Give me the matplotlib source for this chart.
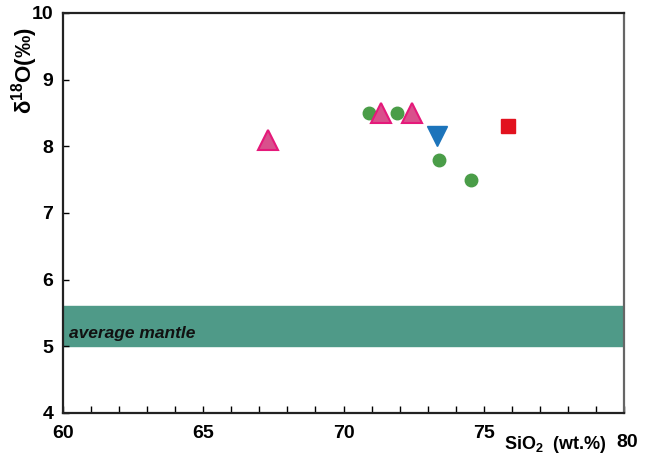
import matplotlib.pyplot as plt
from matplotlib import font_manager

# pick a condensed sans for the labels if it is available
names = {f.name for f in font_manager.fontManager.ttflist}
narrow = 'Liberation Sans Narrow' if 'Liberation Sans Narrow' in names else 'Liberation Sans'
plt.rcParams['font.family'] = [narrow, 'DejaVu Sans']
plt.rcParams['mathtext.default'] = 'regular'

# SiO2 (wt.%) and d18O (permil) by group
tri_sio2 = [67.3, 71.35, 72.45]
tri_d18o = [8.1, 8.5, 8.5]
circ_sio2 = [70.9, 71.9, 73.4, 74.55]
circ_d18o = [8.5, 8.5, 7.8, 7.5]
dtri_sio2 = [73.35]
dtri_d18o = [8.15]
sq_sio2 = [75.85]
sq_d18o = [8.3]

mantle_low, mantle_high = 5.0, 5.6

fig = plt.figure(figsize=(6.46, 4.63), dpi=100)
ax = fig.add_axes([0.0975, 0.108, 0.8685, 0.864])

ax.axhspan(mantle_low, mantle_high, color='#4f9a88', zorder=1)
ax.text(60.2, 5.12, 'average mantle', fontsize=12.5, fontweight='bold',
        fontstyle='italic', color='#111111', zorder=2)

ax.plot(circ_sio2, circ_d18o, 'o', ms=9, color='#4a9d48', mec='#4a9d48', zorder=3)
ax.plot(tri_sio2, tri_d18o, '^', ms=14, color='#d9508c', mec='#e5197a', mew=1.5, zorder=4)
ax.plot(dtri_sio2, dtri_d18o, 'v', ms=14, color='#1c74bb', mec='#1c74bb', zorder=4)
ax.plot(sq_sio2, sq_d18o, 's', ms=9.5, color='#e2121f', mec='#e2121f', zorder=4)

ax.set_xlim(60, 80)
ax.set_ylim(4, 10)
ax.set_xticks(range(60, 81, 5))
ax.set_xticks(range(60, 81), minor=True)
ax.set_xticklabels(['60', '65', '70', '75', ''])
ax.set_yticks(range(4, 11))

ax.tick_params(axis='x', which='both', direction='in', length=5, width=1, pad=9,
               labelsize=14)
ax.tick_params(axis='y', direction='in', length=4, width=1, pad=7, labelsize=14)
for lab in ax.get_xticklabels() + ax.get_yticklabels():
    lab.set_fontweight('bold')

for side in ['left', 'bottom', 'top']:
    ax.spines[side].set_linewidth(1.6)
    ax.spines[side].set_color('#222222')
ax.spines['right'].set_linewidth(1.6)
ax.spines['right'].set_color('#666666')

ax.text(80.1, 3.55, '80', ha='center', va='center', fontsize=14, fontweight='bold')
ax.text(0.878, -0.08, 'SiO$_2$  (wt.%)', transform=ax.transAxes, ha='center',
        va='center', fontsize=13, fontweight='bold')
ax.text(-0.068, 0.855, r'$\delta^{18}$O(‰)', transform=ax.transAxes, rotation=90,
        ha='center', va='center', fontsize=16, fontweight='bold')

fig.savefig('out.png', dpi=100)
